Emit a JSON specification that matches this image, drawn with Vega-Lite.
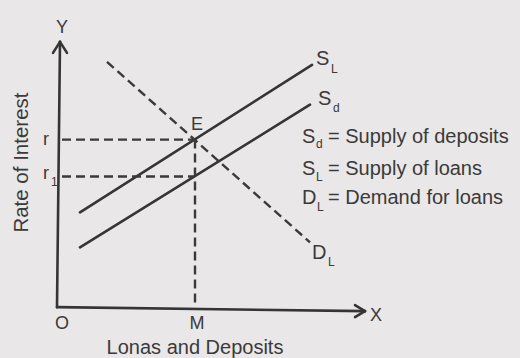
{
  "$schema": "https://vega.github.io/schema/vega-lite/v6.json",
  "width": 520,
  "height": 358,
  "autosize": {"type": "fit", "contains": "padding"},
  "padding": 0,
  "background": "#e9e7e7",
  "config": {
    "view": {"stroke": null},
    "text": {"font": "Liberation Sans, Arial, sans-serif", "color": "#3a3a3a"}
  },
  "datasets": {
    "segments": [
      {"role": "axis", "x": 0, "y": 0, "x2": 3, "y2": 266},
      {"role": "axis", "x": 0, "y": 0, "x2": 308, "y2": -4},
      {"role": "arrow", "x": -4, "y": 255, "x2": 3, "y2": 266},
      {"role": "arrow", "x": 10, "y": 255, "x2": 3, "y2": 266},
      {"role": "arrow", "x": 298, "y": 2, "x2": 308, "y2": -4},
      {"role": "arrow", "x": 298, "y": -10, "x2": 308, "y2": -4},
      {"role": "supply", "curve": "S_L", "x": 23, "y": 95, "x2": 255, "y2": 243},
      {"role": "supply", "curve": "S_d", "x": 23, "y": 60, "x2": 253, "y2": 203},
      {"role": "demand", "curve": "D_L", "x": 50, "y": 246, "x2": 253, "y2": 65},
      {"role": "guide", "name": "r", "x": 5, "y": 168, "x2": 138, "y2": 168},
      {"role": "guide", "name": "r1", "x": 5, "y": 131, "x2": 138, "y2": 131},
      {"role": "guide", "name": "M", "x": 138, "y": 168, "x2": 138, "y2": 1}
    ],
    "labels": [
      {"role": "point", "text": "Y", "x": 5, "y": 275},
      {"role": "point", "text": "X", "x": 319, "y": -14},
      {"role": "point", "text": "O", "x": 5, "y": -22},
      {"role": "point", "text": "M", "x": 140, "y": -22},
      {"role": "point", "text": "E", "x": 140, "y": 178},
      {"role": "point", "text": "r", "x": -11, "y": 163},
      {"role": "point", "text": "r", "x": -11, "y": 128},
      {"role": "sub", "text": "1", "x": -6, "y": 121},
      {"role": "name", "text": "S", "x": 259, "y": 243},
      {"role": "sub", "text": "L", "x": 274, "y": 235},
      {"role": "name", "text": "S", "x": 261, "y": 203},
      {"role": "sub", "text": "d", "x": 276, "y": 196},
      {"role": "name", "text": "D", "x": 255, "y": 48},
      {"role": "sub", "text": "L", "x": 271, "y": 41},
      {"role": "name", "text": "S", "x": 245, "y": 165},
      {"role": "sub", "text": "d", "x": 259, "y": 160},
      {"role": "name", "text": "= Supply of deposits", "x": 271, "y": 165},
      {"role": "name", "text": "S", "x": 245, "y": 133},
      {"role": "sub", "text": "L", "x": 259, "y": 126},
      {"role": "name", "text": "= Supply of loans", "x": 271, "y": 133},
      {"role": "name", "text": "D", "x": 245, "y": 103},
      {"role": "sub", "text": "L", "x": 260, "y": 96},
      {"role": "name", "text": "= Demand for loans", "x": 271, "y": 103}
    ],
    "titles": [
      {"axis": "y", "text": "Rate of Interest", "x": -29, "y": 145},
      {"axis": "x", "text": "Lonas and Deposits", "x": 138, "y": -47}
    ]
  },
  "encoding": {
    "x": {"field": "x", "type": "quantitative", "scale": {"domain": [-57, 463], "nice": false, "zero": false}, "axis": null},
    "y": {"field": "y", "type": "quantitative", "scale": {"domain": [-50, 308], "nice": false, "zero": false}, "axis": null}
  },
  "layer": [
    {
      "data": {"name": "segments"},
      "transform": [{"filter": "datum.role === 'axis' || datum.role === 'arrow' || datum.role === 'supply'"}],
      "mark": {"type": "rule", "color": "#353535", "strokeWidth": 2.6, "strokeCap": "round"},
      "encoding": {"x2": {"field": "x2"}, "y2": {"field": "y2"}}
    },
    {
      "data": {"name": "segments"},
      "transform": [{"filter": "datum.role === 'demand' || datum.role === 'guide'"}],
      "mark": {"type": "rule", "color": "#3a3a3a", "strokeWidth": 2.4, "strokeDash": [9, 5]},
      "encoding": {"x2": {"field": "x2"}, "y2": {"field": "y2"}}
    },
    {
      "data": {"name": "labels"},
      "transform": [{"filter": "datum.role === 'point'"}],
      "mark": {"type": "text", "fontSize": 18, "align": "center", "baseline": "alphabetic"},
      "encoding": {"text": {"field": "text"}}
    },
    {
      "data": {"name": "labels"},
      "transform": [{"filter": "datum.role === 'name'"}],
      "mark": {"type": "text", "fontSize": 20, "align": "left", "baseline": "alphabetic"},
      "encoding": {"text": {"field": "text"}}
    },
    {
      "data": {"name": "labels"},
      "transform": [{"filter": "datum.role === 'sub'"}],
      "mark": {"type": "text", "fontSize": 12, "align": "left", "baseline": "alphabetic"},
      "encoding": {"text": {"field": "text"}}
    },
    {
      "data": {"name": "titles"},
      "transform": [{"filter": "datum.axis === 'y'"}],
      "mark": {"type": "text", "fontSize": 20.5, "angle": 270, "align": "center", "baseline": "alphabetic"},
      "encoding": {"text": {"field": "text"}}
    },
    {
      "data": {"name": "titles"},
      "transform": [{"filter": "datum.axis === 'x'"}],
      "mark": {"type": "text", "fontSize": 20, "align": "center", "baseline": "alphabetic"},
      "encoding": {"text": {"field": "text"}}
    }
  ]
}
